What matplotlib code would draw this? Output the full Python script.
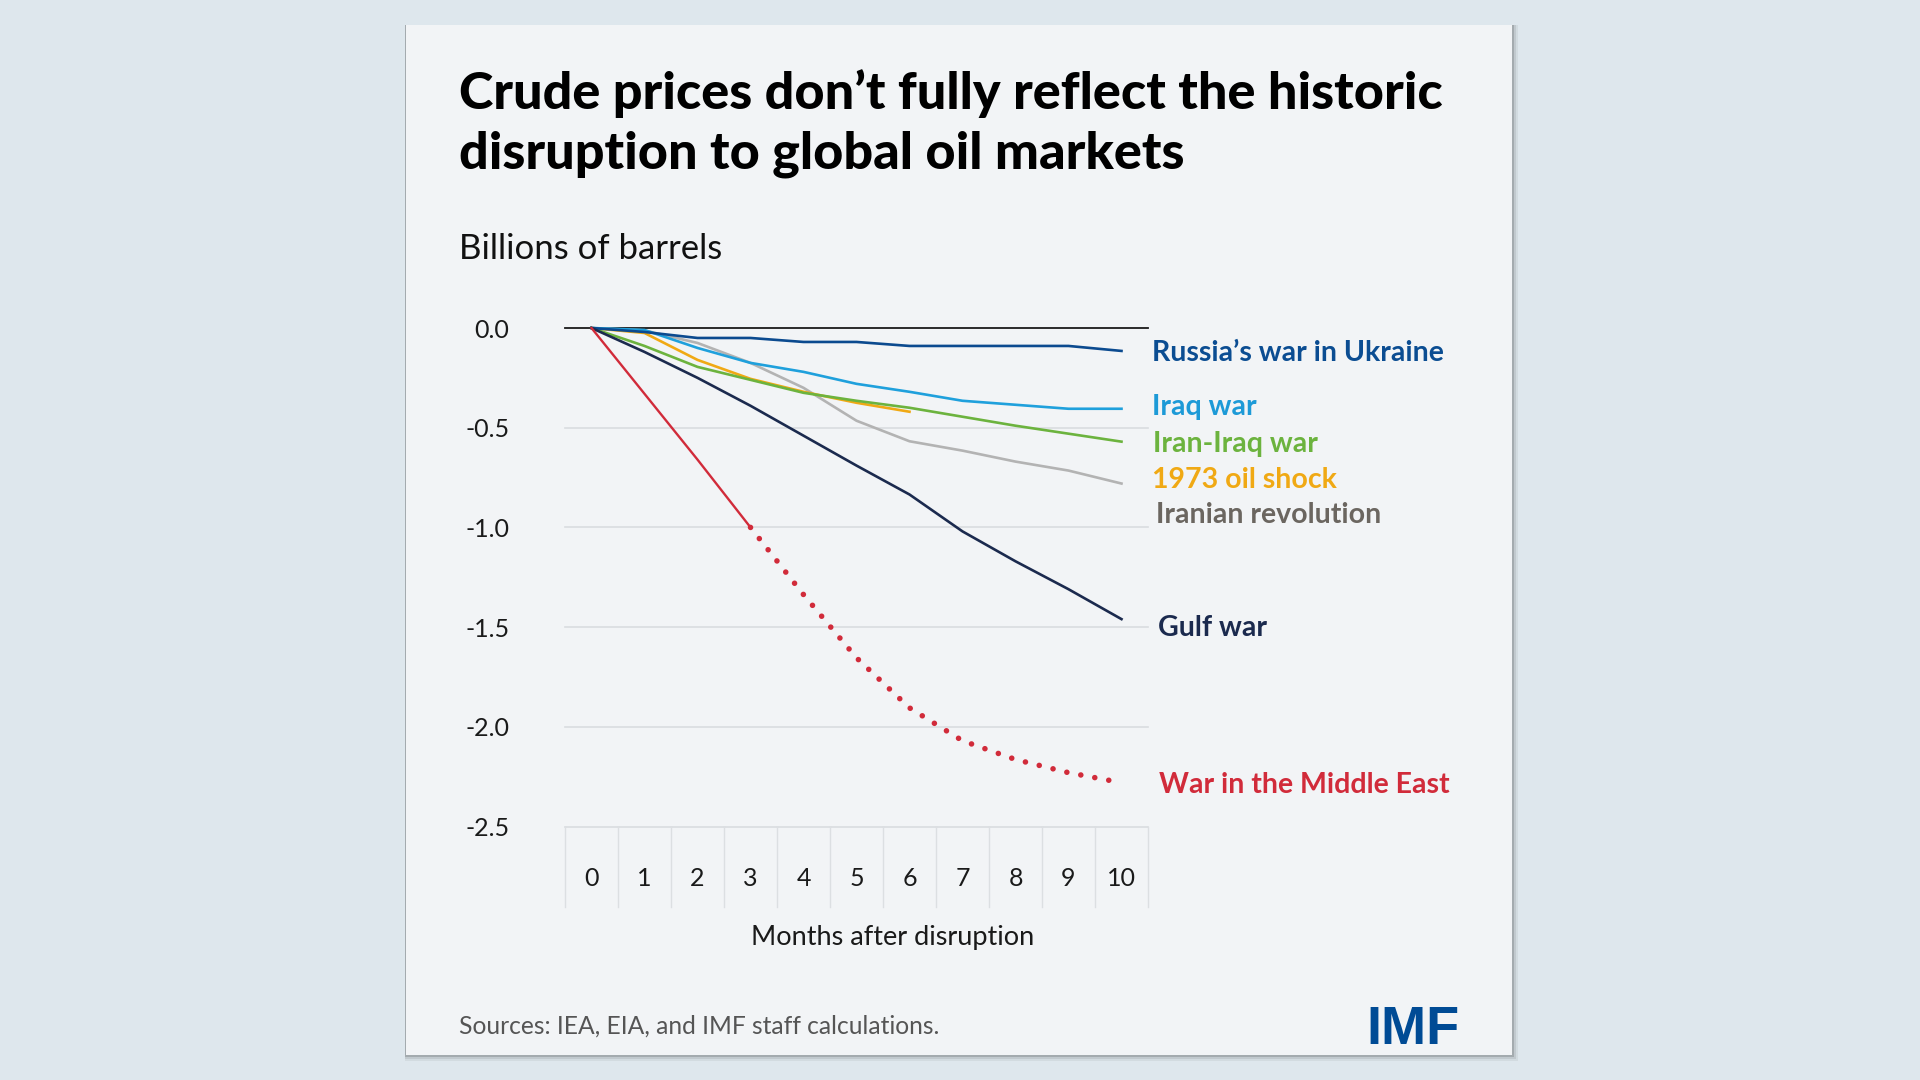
import matplotlib
matplotlib.use("Agg")
import matplotlib.pyplot as plt
import matplotlib.patches as patches
import matplotlib.transforms as mtransforms

# data (billions of barrels vs months after disruption)
months = [0, 1, 2, 3, 4, 5, 6, 7, 8, 9, 10]
russia = [0, -0.02, -0.05, -0.05, -0.07, -0.07, -0.09, -0.09, -0.09, -0.09, -0.115]
iraq = [0, -0.01, -0.10, -0.175, -0.22, -0.28, -0.32, -0.365, -0.385, -0.405, -0.405]
iran_iraq = [0, -0.09, -0.195, -0.26, -0.325, -0.365, -0.40, -0.445, -0.49, -0.53, -0.57]
oil_1973_months = [0, 1, 2, 3, 4, 5, 6]
oil_1973 = [0, -0.025, -0.16, -0.255, -0.32, -0.375, -0.42]
iranian_rev = [0, -0.012, -0.075, -0.175, -0.30, -0.465, -0.568, -0.615, -0.67, -0.715, -0.78]
gulf = [0, -0.12, -0.25, -0.39, -0.54, -0.69, -0.835, -1.02, -1.17, -1.31, -1.46]
middle_east = [0, -0.33, -0.66, -1.0, -1.337, -1.654, -1.905, -2.07, -2.164, -2.23, -2.28]
me_actual_upto = 3  # last observed month, rest is projection

y_ticks = [0.0, -0.5, -1.0, -1.5, -2.0, -2.5]
y_tick_labels = ["0.0", "-0.5", "-1.0", "-1.5", "-2.0", "-2.5"]

FONT = "Lato"
W, H = 1920, 1080

def fx(x):
    return x / W

def fy(y):
    return 1 - y / H

fig = plt.figure(figsize=(19.2, 10.8), dpi=100, facecolor="#dee7ed")

# card with a soft shadow
for off, a in [(6, 0.05), (4, 0.08), (2, 0.15)]:
    fig.patches.append(patches.Rectangle((fx(406 - 1), fy(1055 + off)), fx(1512 + off) - fx(406 - 1),
                                         fy(25) - fy(1055 + off), transform=fig.transFigure,
                                         facecolor="black", alpha=a, edgecolor="none", zorder=0))
fig.patches.append(patches.Rectangle((fx(406), fy(1055)), fx(1512) - fx(406), fy(25) - fy(1055),
                                     transform=fig.transFigure, facecolor="#f2f4f6",
                                     edgecolor="none", zorder=1))

fig.text(fx(459), fy(109), "Crude prices don\u2019t fully reflect the historic",
         fontsize=37.5, fontweight="black", family=FONT, color="black", va="baseline", zorder=3)
fig.text(fx(459), fy(168), "disruption to global oil markets",
         fontsize=37.5, fontweight="black", family=FONT, color="black", va="baseline", zorder=3)
fig.text(fx(459), fy(249), "Billions of barrels", fontsize=25, family=FONT, color="#111111",
         va="center", zorder=3)

ax = fig.add_axes([fx(565), fy(826.5), fx(1148) - fx(565), fy(328) - fy(826.5)])
ax.set_facecolor("none")
ax.set_zorder(2)
ax.set_xlim(-0.5, 10.5)
ax.set_ylim(-2.5, 0)
for s in ax.spines.values():
    s.set_visible(False)

for yv in y_ticks[1:]:
    ax.axhline(yv, color="#d9dce0", lw=1.2, zorder=1, clip_on=False)
ax.axhline(0, color="#1a1a1a", lw=1.3, zorder=1, clip_on=False)

ax.set_yticks(y_ticks)
ax.set_yticklabels(y_tick_labels, family=FONT, fontsize=18, color="#1a1a1a")
ax.tick_params(axis="y", length=0, pad=40)
ax.set_xticks(months)
ax.set_xticklabels([str(m) for m in months], family=FONT, fontsize=18, color="#1a1a1a")
ax.tick_params(axis="x", length=0, pad=29)

# boxed tick cells below the plot
trans = mtransforms.blended_transform_factory(ax.transData, ax.transAxes)
box_h = 80 / 498.5
for m in months + [months[-1] + 1]:
    ax.plot([m - 0.5, m - 0.5], [0, -box_h], transform=trans, color="#dcdfe2", lw=1.0, clip_on=False)

fig.text(fx(893), fy(938), "Months after disruption", family=FONT, fontsize=19.5,
         color="#1a1a1a", ha="center", va="center", zorder=3)

lw = 1.9
ax.plot(months, iranian_rev, color="#b3b3b3", lw=lw, clip_on=False, zorder=3)
ax.plot(oil_1973_months, oil_1973, color="#f0a914", lw=lw, clip_on=False, zorder=3)
ax.plot(months, iran_iraq, color="#6cb33e", lw=lw, clip_on=False, zorder=3)
ax.plot(months, iraq, color="#1fa0dc", lw=lw, clip_on=False, zorder=3)
ax.plot(months, russia, color="#0b4a8f", lw=lw, clip_on=False, zorder=3)
ax.plot(months, gulf, color="#1b2a4e", lw=lw, clip_on=False, zorder=4)
ax.plot(months[:me_actual_upto + 1], middle_east[:me_actual_upto + 1], color="#d12b3a",
        lw=1.7, clip_on=False, zorder=5)
ax.plot(months[me_actual_upto:], middle_east[me_actual_upto:], color="#d12b3a", lw=4.0,
        linestyle=(0, (0.01, 2.55)), dash_capstyle="round", clip_on=False, zorder=5)

labels = [
    ("Russia\u2019s war in Ukraine", "#0b4d92", 10.57, -0.125),
    ("Iraq war", "#1d9ad7", 10.57, -0.395),
    ("Iran-Iraq war", "#6cb33e", 10.59, -0.58),
    ("1973 oil shock", "#f0a914", 10.58, -0.762),
    ("Iranian revolution", "#6b6660", 10.65, -0.938),
    ("Gulf war", "#1b2a4e", 10.69, -1.505),
    ("War in the Middle East", "#d12b3a", 10.71, -2.29),
]
for text, col, lx, ly in labels:
    ax.text(lx, ly, text, color=col, fontsize=20.5, fontweight="bold", family=FONT,
            va="center", ha="left", clip_on=False)

fig.text(fx(459), fy(1026), "Sources: IEA, EIA, and IMF staff calculations.", fontsize=17.7,
         family=FONT, color="#555555", va="center", zorder=3)
fig.text(fx(1460), fy(1030), "IMF", fontsize=39, fontweight="bold", family="Liberation Sans",
         color="#004b95", va="center", ha="right", zorder=3)

fig.savefig("out.png", dpi=100, facecolor=fig.get_facecolor())
